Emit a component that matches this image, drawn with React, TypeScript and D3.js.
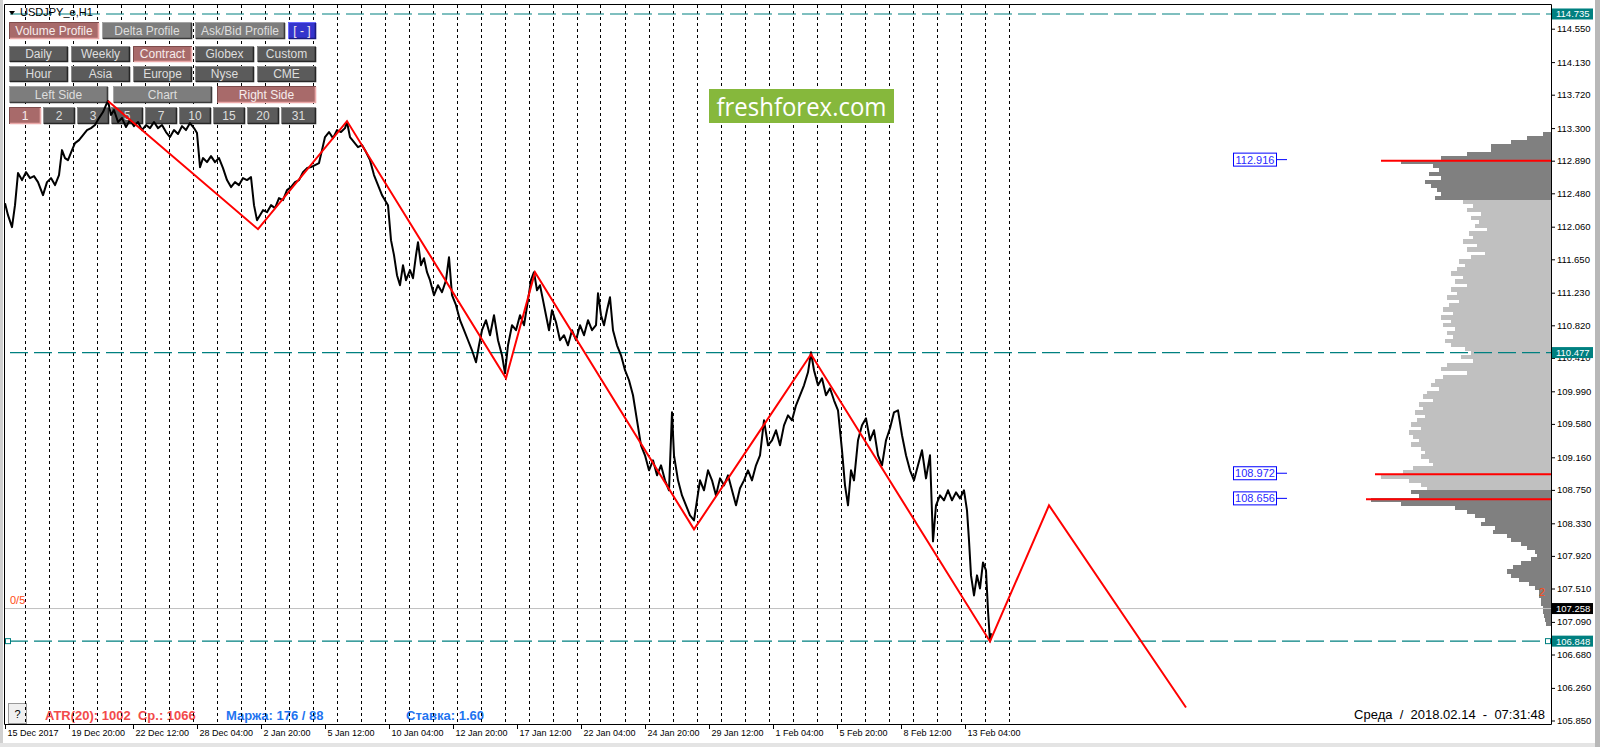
import React, { useEffect, useRef } from 'react';
import * as d3 from 'd3';

const FONT = '"Liberation Sans", Arial, sans-serif';

// right price scale
const priceTicks = [114.55, 114.13, 113.72, 113.3, 112.89, 112.48, 112.06, 111.65, 111.23, 110.82, 110.41,
  109.99, 109.58, 109.16, 108.75, 108.33, 107.92, 107.51, 107.09, 106.68, 106.26, 105.85];

// time scale (H1 bars, bar 0 = first bar on screen)
const timeTickBars = [0, 64, 128, 192, 256, 320, 384, 448, 512, 576, 640, 704, 768, 832, 896, 960];
const timeLabels = ['15 Dec 2017', '19 Dec 20:00', '22 Dec 12:00', '28 Dec 04:00', '2 Jan 20:00', '5 Jan 12:00',
  '10 Jan 04:00', '12 Jan 20:00', '17 Jan 12:00', '22 Jan 04:00', '24 Jan 20:00', '29 Jan 12:00',
  '1 Feb 04:00', '5 Feb 20:00', '8 Feb 12:00', '13 Feb 04:00'];

// USDJPY close line [bar, price]
const closes: [number, number][] = [
  [0, 112.356], [3, 112.205], [7, 112.054], [10, 112.331], [13, 112.734], [17, 112.646], [21, 112.746], [25, 112.671],
  [29, 112.696], [33, 112.621], [38, 112.457], [42, 112.621], [46, 112.671], [50, 112.583], [54, 112.709], [57, 113.023],
  [60, 112.923], [63, 112.897], [67, 113.023], [70, 113.111], [74, 113.149], [78, 113.212], [82, 113.275], [86, 113.3],
  [90, 113.338], [94, 113.426], [98, 113.502], [101, 113.59], [103, 113.64], [106, 113.464], [109, 113.527], [113, 113.376],
  [117, 113.426], [121, 113.313], [125, 113.401], [129, 113.325], [133, 113.376], [137, 113.275], [141, 113.338], [145, 113.3],
  [149, 113.376], [153, 113.3], [157, 113.338], [161, 113.25], [165, 113.187], [169, 113.275], [173, 113.225], [177, 113.325],
  [181, 113.275], [185, 113.363], [189, 113.3], [192, 113.237], [195, 112.809], [198, 112.923], [202, 112.872], [206, 112.948],
  [210, 112.872], [214, 112.923], [218, 112.797], [222, 112.646], [226, 112.558], [230, 112.621], [234, 112.583], [238, 112.671],
  [242, 112.646], [246, 112.684], [249, 112.331], [252, 112.142], [255, 112.205], [258, 112.268], [262, 112.243], [266, 112.331],
  [270, 112.293], [274, 112.419], [278, 112.394], [282, 112.52], [286, 112.558], [290, 112.621], [294, 112.646], [298, 112.746],
  [302, 112.797], [306, 112.809], [310, 112.835], [314, 112.86], [317, 113.023], [320, 113.187], [324, 113.25], [328, 113.174],
  [332, 113.275], [336, 113.25], [340, 113.3], [342, 113.376], [345, 113.187], [349, 113.124], [353, 113.061], [357, 113.086],
  [361, 112.998], [365, 112.897], [369, 112.709], [373, 112.583], [377, 112.457], [380, 112.394], [383, 112.331], [386, 111.891],
  [389, 111.702], [392, 111.45], [395, 111.324], [398, 111.576], [401, 111.387], [405, 111.513], [408, 111.412], [411, 111.702],
  [413, 111.865], [416, 111.576], [419, 111.664], [422, 111.488], [425, 111.387], [429, 111.199], [433, 111.324], [437, 111.236],
  [441, 111.387], [444, 111.677], [447, 111.199], [451, 111.073], [455, 110.884], [459, 110.758], [463, 110.632], [467, 110.506],
  [471, 110.355], [474, 110.569], [477, 110.758], [481, 110.884], [485, 110.695], [489, 110.947], [493, 110.632], [497, 110.443],
  [500, 110.217], [503, 110.569], [507, 110.821], [511, 110.758], [515, 110.947], [519, 110.821], [523, 111.136], [526, 111.387],
  [529, 111.488], [532, 111.261], [535, 111.324], [538, 111.136], [541, 110.947], [544, 110.758], [547, 111.01], [551, 110.859],
  [555, 110.632], [559, 110.695], [563, 110.569], [567, 110.758], [571, 110.632], [575, 110.821], [579, 110.695], [583, 110.884],
  [587, 110.758], [591, 110.821], [593, 111.224], [596, 110.947], [599, 110.821], [602, 111.01], [605, 111.173], [608, 110.758],
  [612, 110.569], [616, 110.443], [620, 110.255], [624, 110.129], [628, 109.94], [632, 109.625], [636, 109.311], [640, 109.185],
  [644, 108.996], [648, 109.122], [652, 108.933], [656, 109.059], [660, 108.87], [664, 108.745], [667, 109.726], [669, 109.185],
  [673, 108.87], [677, 108.681], [681, 108.556], [685, 108.429], [689, 108.367], [692, 108.619], [695, 108.87], [699, 108.745],
  [703, 108.996], [707, 108.87], [711, 108.681], [715, 108.895], [719, 108.807], [723, 108.933], [727, 108.745], [731, 108.556],
  [735, 108.77], [739, 108.87], [743, 108.996], [747, 108.87], [751, 109.059], [755, 109.185], [759, 109.625], [763, 109.311],
  [767, 109.374], [771, 109.5], [775, 109.311], [779, 109.562], [783, 109.688], [787, 109.625], [791, 109.814], [795, 109.94],
  [799, 110.066], [803, 110.229], [806, 110.481], [809, 110.255], [813, 110.066], [817, 110.154], [821, 109.94], [825, 110.028],
  [829, 109.877], [833, 109.751], [837, 109.248], [840, 108.807], [843, 108.556], [846, 108.996], [849, 108.87], [853, 109.374],
  [857, 109.562], [861, 109.65], [865, 109.374], [869, 109.5], [873, 109.185], [877, 109.059], [881, 109.374], [885, 109.525],
  [889, 109.726], [893, 109.751], [897, 109.437], [901, 109.185], [905, 108.996], [909, 108.87], [913, 109.059], [917, 109.248],
  [921, 108.895], [925, 109.185], [928, 108.103], [931, 108.556], [935, 108.681], [939, 108.619], [943, 108.745], [947, 108.619],
  [951, 108.719], [955, 108.644], [959, 108.745], [962, 108.493], [964, 108.115], [966, 107.675], [969, 107.423], [972, 107.675],
  [975, 107.511], [978, 107.838], [981, 107.738], [983, 107.234], [985, 106.844], [986, 106.95],
];

// red zigzag [bar, price]
const zigzag: [number, number][] = [
  [103, 113.64], [253, 112.029], [342, 113.388], [501, 110.154], [530, 111.488], [689, 108.254],
  [806, 110.456], [985, 106.844], [1044, 108.556], [1181, 106.014],
];

const dashedLevels = [114.735, 110.477, 106.848];
const bidLevel = 107.258;
const pocLevels = [112.916, 108.972, 108.656];
const pocVolumes = [170, 176, 185];

// volume profile, rows of 0.05 from 113.25 down
const profileTop = 113.25;
const profileStep = 0.05;
const profileVolumes = [
  8, 24, 40, 60, 60, 84, 110, 150, 118, 112, 122, 110, 126, 120, 114, 110, 116,
  88, 78, 84, 70, 80, 72, 76, 64, 82, 78, 88, 74, 84, 66, 80, 92, 86, 94, 100, 88,
  96, 84, 100, 94, 104, 92, 102, 108, 98, 110, 100, 108, 96, 104, 98, 106, 100, 86, 80, 90,
  78, 104, 110, 84, 108, 116, 120, 112, 124, 128, 118, 132, 128, 136, 126, 134, 140, 130, 142, 138,
  132, 140, 130, 126, 130, 122, 118, 138, 148, 170, 142, 130, 124,
  140, 132, 180, 150, 96, 84, 76, 66, 70, 56, 58, 44, 40, 30, 24, 16, 14, 20, 30, 38,
  44, 40, 32, 22, 16, 12, 12, 10, 10, 8, 8, 7, 6, 5,
];
const valueAreaHigh = 112.42;
const valueAreaLow = 108.77;

// panel buttons
const profileButtons = ['Volume Profile', 'Delta Profile', 'Ask/Bid Profile', '[ - ]'];
const periodButtons = ['Daily', 'Weekly', 'Contract', 'Globex', 'Custom'];
const sessionButtons = ['Hour', 'Asia', 'Europe', 'Nyse', 'CME'];
const sideButtons = ['Left Side', 'Chart', 'Right Side'];
const countButtons = ['1', '2', '3', '5', '7', '10', '15', '20', '31'];
const activeButtons = ['Volume Profile', 'Contract', 'Right Side', '1'];

type Kind = 'dark' | 'light' | 'active' | 'blue';

const Btn = ({ x, y, w, h, label, kind }: { x: number; y: number; w: number; h: number; label: string; kind: Kind }) => {
  const fill = { dark: '#5b5b5b', light: '#7d7d7d', active: '#a86a6a', blue: '#3434cc' }[kind];
  const hi = { dark: '#8c8c8c', light: '#a4a4a4', active: '#7e4c4c', blue: '#6a6aff' }[kind];
  const lo = { dark: '#262626', light: '#3a3a3a', active: '#eaa8a8', blue: '#1a1a80' }[kind];
  const tc = kind === 'dark' || kind === 'light' ? '#dedede' : '#f6ecec';
  return (
    <g>
      <rect x={x} y={y} width={w} height={h} fill={fill} />
      <path d={`M${x + 0.5},${y + h}V${y + 0.5}H${x + w}`} stroke={hi} fill="none" />
      <path d={`M${x + 1},${y + h - 0.5}H${x + w - 0.5}V${y + 1}`} stroke={lo} strokeWidth={1.6} fill="none" />
      <text x={x + w / 2} y={y + h / 2 + 4.3} textAnchor="middle" fontSize={12} fontFamily={FONT} fill={tc}>{label}</text>
    </g>
  );
};

export default function App() {
  const axisRef = useRef<SVGGElement>(null);
  const L = 4, T = 5, R = 1551, B = 724;

  const x = d3.scaleLinear().domain([0, 1546]).range([5, 1551]);
  const y = d3.scaleLinear().domain([105.85, 114.55]).range([720.5, 28.7]);
  const vol = d3.scaleLinear().domain([0, 200]).range([0, 200]);
  const line = d3.line<[number, number]>().x(d => x(d[0])).y(d => y(d[1]));
  const separators = d3.range(20, 1005, 24);

  useEffect(() => {
    document.body.style.margin = '0';
    const g = d3.select(axisRef.current);
    g.selectAll('*').remove();
    const ya = g.append('g').attr('transform', `translate(${R},0)`)
      .call(d3.axisRight(y).tickValues(priceTicks).tickFormat(d3.format('.3f')).tickSize(4).tickPadding(2));
    ya.select('.domain').remove();
    ya.attr('font-family', FONT).attr('font-size', 9.5);
    ya.selectAll('text').attr('fill', '#000');
    const xa = g.append('g').attr('transform', `translate(0,${B})`)
      .call(d3.axisBottom(x).tickValues(timeTickBars).tickFormat((_d, i) => timeLabels[i]).tickSize(5).tickPadding(1));
    xa.select('.domain').remove();
    xa.attr('font-family', FONT).attr('font-size', 9);
    xa.selectAll('text').attr('text-anchor', 'start').attr('x', 2).attr('fill', '#000');
  }, []);

  const rowKind = (label: string, base: Kind): Kind => (activeButtons.includes(label) ? 'active' : base);

  return (
    <svg width={1600} height={747} style={{ position: 'fixed', left: 0, top: 0, display: 'block' }}>
      <defs>
        <clipPath id="plot"><rect x={L} y={T} width={R - L} height={B - T} /></clipPath>
      </defs>
      <rect width={1600} height={747} fill="#fff" />
      <rect x={0} y={0} width={3} height={747} fill="#d0d0d0" />
      <rect x={1595} y={0} width={5} height={747} fill="#b8b8b8" />
      <rect x={0} y={743} width={1595} height={4} fill="#e4e4e4" />

      {/* volume profile */}
      <g shapeRendering="crispEdges">
        {profileVolumes.map((v, i) => {
          const p = profileTop - i * profileStep;
          const y0 = y(p);
          const y1 = y(p - profileStep);
          const inVA = p <= valueAreaHigh && p >= valueAreaLow;
          return <rect key={i} x={R - vol(v)} y={y0} width={vol(v)} height={y1 - y0 + 0.6} fill={inVA ? '#c0c0c0' : '#808080'} />;
        })}
      </g>

      {/* bottom info texts */}
      <rect x={8.5} y={703.5} width={18} height={20} fill="#f0f0f0" stroke="#9a9a9a" />
      <text x={17.5} y={718} textAnchor="middle" fontSize={11} fontFamily={FONT} fill="#000">?</text>
      <text x={45} y={720} fontSize={13} fontWeight="bold" fontFamily={FONT} fill="#f24a4a" style={{ whiteSpace: 'pre' }}>ATR(20): 1002  Ср.: 1066</text>
      <text x={226} y={720} fontSize={13} fontWeight="bold" fontFamily={FONT} fill="#1f74f0">Маржа: 176 / 88</text>
      <text x={406} y={720} fontSize={13} fontWeight="bold" fontFamily={FONT} fill="#1f74f0">Ставка: 1.60</text>
      <text x={1545} y={719} textAnchor="end" fontSize={13} fontFamily={FONT} fill="#000" style={{ whiteSpace: 'pre' }}>Среда  /  2018.02.14  -  07:31:48</text>

      {/* day separators */}
      <g stroke="#000" strokeDasharray="3,3">
        {separators.map(b => (
          <line key={b} x1={Math.floor(x(b)) + 0.5} x2={Math.floor(x(b)) + 0.5} y1={T} y2={B} />
        ))}
      </g>

      {/* horizontal levels */}
      <line x1={L} x2={R} y1={y(bidLevel)} y2={y(bidLevel)} stroke="#c0c0c0" />
      <g stroke="#008080" strokeDasharray="18,6" strokeWidth={1.2}>
        {dashedLevels.map(l => <line key={l} x1={L + 6} x2={R} y1={y(l)} y2={y(l)} />)}
      </g>
      <rect x={5.5} y={y(106.848) - 2.5} width={5} height={5} fill="#fff" stroke="#008080" />
      <rect x={1545.5} y={y(106.848) - 2.5} width={5} height={5} fill="#fff" stroke="#008080" />

      {/* POC levels */}
      {pocLevels.map((l, i) => (
        <g key={l}>
          <line x1={R - vol(pocVolumes[i])} x2={R} y1={y(l) + 2} y2={y(l) + 2} stroke="#ff0000" strokeWidth={2} />
          <line x1={1277} x2={1287} y1={y(l) + 1} y2={y(l) + 1} stroke="#0000ff" />
          <rect x={1233.5} y={y(l) - 5.5} width={43} height={13} fill="#fff" stroke="#0000ff" />
          <text x={1255} y={y(l) + 5} textAnchor="middle" fontSize={11} fontFamily={FONT} fill="#2a2aff">{l.toFixed(3)}</text>
        </g>
      ))}

      {/* buttons */}
      <g>
        {profileButtons.map((b, i) => (
          <Btn key={b} x={[9, 102, 195, 288][i]} y={22} w={i === 3 ? 28 : 90} h={17} label={b}
            kind={i === 3 ? 'blue' : rowKind(b, 'light')} />
        ))}
        {periodButtons.map((b, i) => <Btn key={b} x={9 + 62 * i} y={46} w={59} h={16} label={b} kind={rowKind(b, 'dark')} />)}
        {sessionButtons.map((b, i) => <Btn key={b} x={9 + 62 * i} y={66} w={59} h={16} label={b} kind={rowKind(b, 'dark')} />)}
        {sideButtons.map((b, i) => <Btn key={b} x={9 + 104 * i} y={86} w={99} h={17} label={b} kind={rowKind(b, 'light')} />)}
        {countButtons.map((b, i) => <Btn key={b} x={9 + 34 * i} y={107} w={i === 8 ? 35 : 32} h={17} label={b} kind={rowKind(b, 'dark')} />)}
      </g>

      {/* logo */}
      <rect x={709} y={89} width={185} height={34} fill="#86b83c" />
      <text x={801.5} y={116} textAnchor="middle" fontSize={26} fontFamily='"Open Sans", sans-serif' fill="#fff"
        textLength={170} lengthAdjust="spacingAndGlyphs">freshforex.com</text>

      {/* price and zigzag */}
      <g clipPath="url(#plot)">
        <path d={line(closes) || ''} fill="none" stroke="#000" strokeWidth={2} strokeLinejoin="round" />
        <path d={line(zigzag) || ''} fill="none" stroke="#ff0000" strokeWidth={2} />
      </g>

      {/* header */}
      <path d="M9,11 L15,11 L12,15 Z" fill="#000" />
      <text x={20} y={16} fontSize={11} fontFamily={FONT} fill="#000">USDJPY_e,H1</text>
      <text x={10} y={604} fontSize={11} fontFamily={FONT} fill="#ff4a14">0/5</text>
      <text x={1539} y={596} fontSize={11} fontFamily={FONT} fill="#ff4a14">2</text>

      {/* frame */}
      <path d={`M${L + 0.5},${B + 0.5}V${T - 0.5}H${R + 0.5}V${B + 0.5}H${L + 0.5}`} fill="none" stroke="#000" />

      <g ref={axisRef} />

      {/* price labels on scale */}
      {dashedLevels.map(l => (
        <g key={l}>
          <rect x={1552} y={y(l) - 5.5} width={41} height={11} fill="#008080" />
          <text x={1556} y={y(l) + 3.5} fontSize={9.5} fontFamily={FONT} fill="#fff">{l.toFixed(3)}</text>
        </g>
      ))}
      <rect x={1552} y={y(bidLevel) - 5.5} width={41} height={11} fill="#000" />
      <text x={1556} y={y(bidLevel) + 3.5} fontSize={9.5} fontFamily={FONT} fill="#fff">{bidLevel.toFixed(3)}</text>
    </svg>
  );
}
